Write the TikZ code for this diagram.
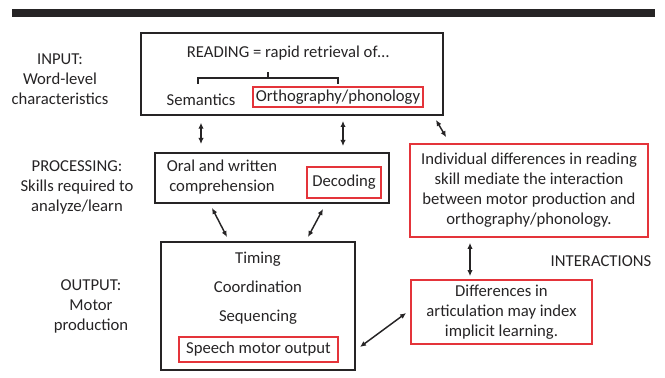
\documentclass[tikz,border=0pt]{standalone}
\usepackage{fontspec}
\setmainfont{Carlito}
\usepackage{tikz}
\usetikzlibrary{arrows.meta}

\definecolor{boxred}{RGB}{228,52,58}
\definecolor{boxblack}{RGB}{38,36,37}

\tikzset{
  txt/.style={font=\fontsize{12.5}{15}\selectfont, text=boxblack, inner sep=0pt, align=center},
  blackbox/.style={draw=boxblack, line width=1.5pt, inner sep=0pt},
  redbox/.style={draw=boxred, line width=1.3pt, inner sep=0pt, font=\fontsize{12.5}{15}\selectfont, text=boxblack, align=center},
  dbl/.style={{Latex[length=4.5pt,width=4pt]}-{Latex[length=4.5pt,width=4pt]}, draw=boxblack, line width=1.1pt}
}

\begin{document}
\begin{tikzpicture}[x=0.75pt,y=0.75pt,yscale=-1,xscale=1]
\useasboundingbox (0,0) rectangle (665,378);

%Shape: Top bar
\fill [boxblack] (12,9) rectangle (655,17) ;

%Shape: Rectangle
\node [blackbox, minimum width=226.5pt, minimum height=61.5pt] (reading) at (292,74) {};
%Shape: Rectangle
\node [blackbox, minimum width=175.5pt, minimum height=37.5pt] (procbox) at (272,178) {};
%Shape: Rectangle
\node [blackbox, minimum width=145.5pt, minimum height=96pt] (outbox) at (258,306) {};

% Text Node
\node [txt] (title) at (288,53) {READING = rapid retrieval of…};
% Text Node
\node [txt] (semantics) at (201,100) {Semantics};
% Text Node
\node [redbox, minimum width=127.5pt, minimum height=15pt] (ortho) at (338,97) {Orthography/phonology};

%Straight Lines: bracket
\draw [boxblack, line width=1.1pt] (198,84) -- (198,78) -- (338,78) -- (338,84) ;
\draw [boxblack, line width=1.1pt] (268,78) -- (268,72) ;

% Text Node
\node [txt] (compr) at (222,177) {Oral and written\\comprehension};
% Text Node
\node [redbox, minimum width=55.5pt, minimum height=23.25pt] (decoding) at (344,182.5) {Decoding};

% Text Node
\node [txt] (timing) at (258,259) {Timing};
% Text Node
\node [txt] (coord) at (258,287) {Coordination};
% Text Node
\node [txt] (sequ) at (258,317) {Sequencing};
% Text Node
\node [redbox, minimum width=119.25pt, minimum height=18.75pt] (speech) at (258.5,349.5) {Speech motor output};

% Text Node
\node [redbox, minimum width=178.5pt, minimum height=69.75pt] (mediate) at (529,190.5) {Individual differences in reading\\skill mediate the interaction\\between motor production and\\orthography/phonology.};
% Text Node
\node [redbox, minimum width=135.75pt, minimum height=48pt] (artic) at (501.5,312) {Differences in\\articulation may index\\implicit learning.};

% Text Node
\node [txt] (interact) at (601,261) {INTERACTIONS};

% Text Node
\node [txt] (input) at (60,79) {INPUT:\\Word-level\\characteristics};
% Text Node
\node [txt] (processing) at (77,187) {PROCESSING:\\Skills required to\\analyze/learn};
% Text Node
\node [txt] (output) at (91,306) {OUTPUT:\\Motor\\production};

%Straight Lines
\draw [dbl] ([yshift=5]reading.south -| semantics) -- ([yshift=-6]procbox.north -| semantics) ;
%Straight Lines
\draw [dbl] ([shift={(5,5)}]reading.south -| ortho) -- ([shift={(5,-6)}]procbox.north -| ortho) ;
%Straight Lines
\draw [dbl] ([shift={(-8,4)}]reading.south east) -- ([shift={(37,-6)}]mediate.north west) ;
%Straight Lines
\draw [dbl] ([shift={(-60,4)}]procbox.south) -- ([shift={(-31,-4)}]outbox.north) ;
%Straight Lines
\draw [dbl] ([shift={(51,5)}]procbox.south) -- ([shift={(50,-4)}]outbox.north) ;
%Straight Lines
\draw [dbl] ([shift={(-59,5)}]mediate.south) -- ([shift={(-31.5,-3)}]artic.north) ;
%Straight Lines
\draw [dbl] ([shift={(4,41)}]outbox.east) -- ([shift={(-4,1)}]artic.west) ;

\end{tikzpicture}
\end{document}
